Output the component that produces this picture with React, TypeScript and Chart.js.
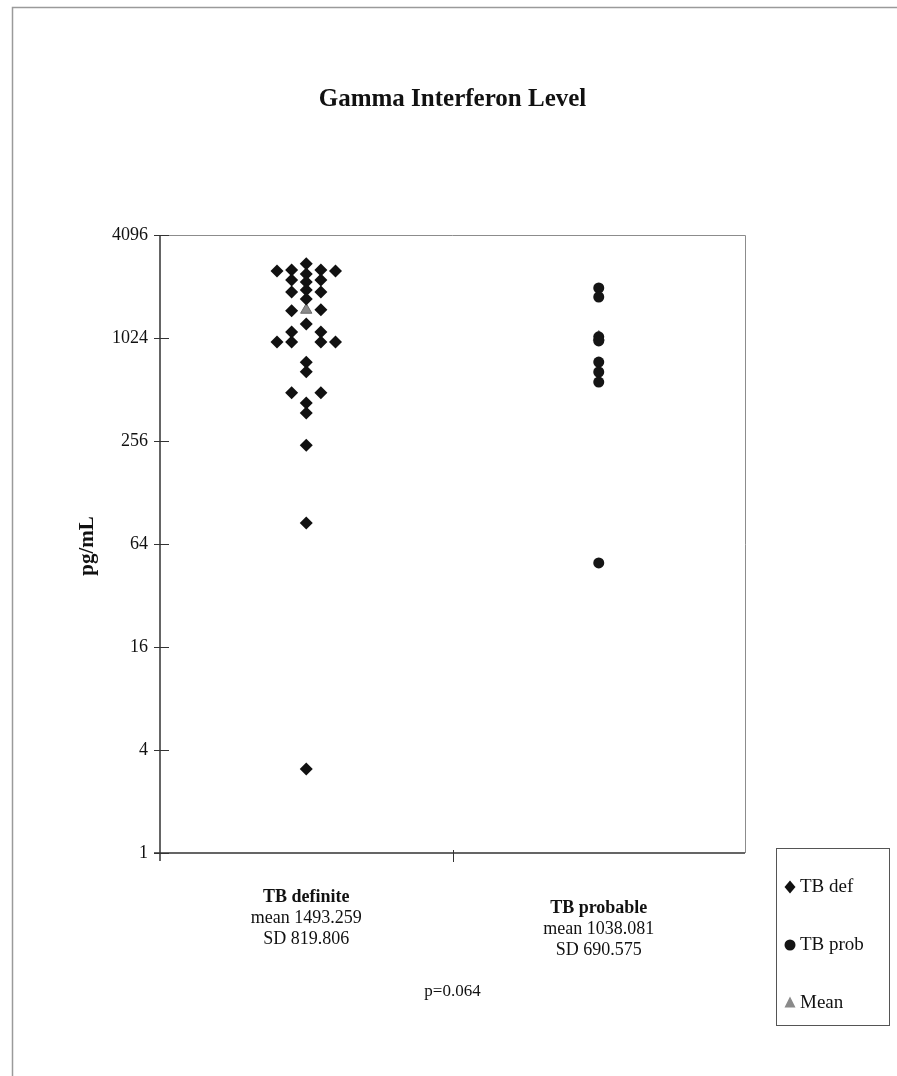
import React, { useEffect, useRef } from "react";
import { Chart, registerables } from "chart.js";

Chart.register(...registerables);

const titleText = "Gamma Interferon Level";
const yAxisTitle = "pg/mL";
const categories = ["TB definite", "TB probable"];
const categoryX = [1, 3];
const means = [1493.259, 1038.081];
const meanLabels = ["mean 1493.259", "mean 1038.081"];
const sdLabels = ["SD 819.806", "SD 690.575"];
const pValueText = "p=0.064";
const yTicks = [1, 4, 16, 64, 256, 1024, 4096];
const legendLabels = ["TB def", "TB prob", "Mean"];

// TB definite: jitter column (-2..2) and value (pg/mL)
const defColumns = [
  0, 0, 0, 0, 0, 0, 0, 0, 0, 0, 0, 0, 0,
  -1, -1, -1, -1, -1, -1, -1,
  1, 1, 1, 1, 1, 1, 1,
  -2, -2,
  2, 2,
];
const defValues = [
  2785, 2424, 2175, 1953, 1731, 1237, 740, 650, 427, 373, 242, 85, 3.1,
  2556, 2235, 1902, 1480, 1110, 970, 490,
  2556, 2235, 1902, 1500, 1110, 970, 490,
  2520, 970,
  2520, 970,
];
// TB probable
const probColumns = [0, 0, 0, 0, 0, 0, 0, 0];
const probValues = [2007, 1778, 1040, 985, 741, 648, 566, 49.6];

const FONT = "'Liberation Serif', 'Times New Roman', serif";

export default function App() {
  const ref = useRef<HTMLCanvasElement | null>(null);

  useEffect(() => {
    const canvas = ref.current;
    if (!canvas) return;
    const colStep = 0.1;
    const defData = defValues.map((v, i) => ({ x: categoryX[0] + defColumns[i] * colStep, y: v }));
    const probData = probValues.map((v, i) => ({ x: categoryX[1] + probColumns[i] * colStep, y: v }));
    const meanData = means.map((v, i) => ({ x: categoryX[i], y: v }));

    const decor = {
      id: "decor",
      beforeDraw(chart: any) {
        const ctx = chart.ctx;
        ctx.save();
        ctx.fillStyle = "#ffffff";
        ctx.fillRect(0, 0, chart.width, chart.height);
        ctx.strokeStyle = "#9a9a9a";
        ctx.lineWidth = 1.5;
        ctx.beginPath();
        ctx.moveTo(12.5, chart.height + 2);
        ctx.lineTo(12.5, 7.5);
        ctx.lineTo(chart.width + 2, 7.5);
        ctx.stroke();
        ctx.restore();
      },
      beforeDatasetsDraw(chart: any) {
        const ctx = chart.ctx;
        const a = chart.chartArea;
        const ys = chart.scales.y;
        const xs = chart.scales.x;
        ctx.save();
        ctx.strokeStyle = "#8c8c8c";
        ctx.lineWidth = 1;
        ctx.beginPath();
        ctx.moveTo(a.left, a.top + 0.5);
        ctx.lineTo(a.right + 0.5, a.top + 0.5);
        ctx.lineTo(a.right + 0.5, a.bottom);
        ctx.stroke();
        ctx.strokeStyle = "#333333";
        ctx.lineWidth = 1.5;
        ctx.beginPath();
        ctx.moveTo(a.left, a.top);
        ctx.lineTo(a.left, a.bottom + 8);
        ctx.moveTo(a.left - 6, a.bottom);
        ctx.lineTo(a.right, a.bottom);
        ctx.stroke();
        ctx.lineWidth = 1;
        ctx.beginPath();
        yTicks.forEach((t) => {
          const y = Math.round(ys.getPixelForValue(t)) + 0.5;
          ctx.moveTo(a.left - 6, y);
          ctx.lineTo(a.left + 9, y);
        });
        const mx = Math.round(xs.getPixelForValue((categoryX[0] + categoryX[1]) / 2)) + 0.5;
        ctx.moveTo(mx, a.bottom - 3);
        ctx.lineTo(mx, a.bottom + 9);
        ctx.stroke();
        ctx.restore();
      },
      afterDraw(chart: any) {
        const ctx = chart.ctx;
        const a = chart.chartArea;
        const xs = chart.scales.x;
        ctx.save();
        ctx.fillStyle = "#111111";
        ctx.textAlign = "center";
        ctx.textBaseline = "middle";
        ctx.font = `bold 25px ${FONT}`;
        ctx.fillText(titleText, (a.left + a.right) / 2, 100);

        ctx.save();
        ctx.translate(88, 546);
        ctx.rotate(-Math.PI / 2);
        ctx.font = `bold 21px ${FONT}`;
        ctx.fillText(yAxisTitle, 0, 0);
        ctx.restore();

        const baseY = [897, 908];
        categories.forEach((c, i) => {
          const x = xs.getPixelForValue(categoryX[i]);
          ctx.font = `bold 18px ${FONT}`;
          ctx.fillText(c, x, baseY[i]);
          ctx.font = `18px ${FONT}`;
          ctx.fillText(meanLabels[i], x, baseY[i] + 21);
          ctx.fillText(sdLabels[i], x, baseY[i] + 42);
        });
        ctx.font = `17px ${FONT}`;
        ctx.fillText(pValueText, xs.getPixelForValue((categoryX[0] + categoryX[1]) / 2), 992);

        ctx.strokeStyle = "#555555";
        ctx.lineWidth = 1;
        ctx.strokeRect(776.5, 848.5, 113, 177);
        const ds = chart.data.datasets;
        const ly = [887, 945, 1003];
        legendLabels.forEach((lab, i) => {
          const d = ds[i];
          ctx.fillStyle = d.backgroundColor;
          const r = 5.5;
          const cx = 790;
          const cy = ly[i];
          ctx.beginPath();
          if (d.pointStyle === "rectRot") {
            ctx.moveTo(cx, cy - r - 1);
            ctx.lineTo(cx + r, cy);
            ctx.lineTo(cx, cy + r + 1);
            ctx.lineTo(cx - r, cy);
            ctx.closePath();
          } else if (d.pointStyle === "circle") {
            ctx.arc(cx, cy, r, 0, Math.PI * 2);
          } else {
            ctx.moveTo(cx, cy - r - 1);
            ctx.lineTo(cx + r, cy + r - 1);
            ctx.lineTo(cx - r, cy + r - 1);
            ctx.closePath();
          }
          ctx.fill();
          ctx.fillStyle = "#111111";
          ctx.textAlign = "left";
          ctx.font = `19px ${FONT}`;
          ctx.fillText(lab, 800, cy);
        });
        ctx.restore();
      },
    };

    const chart = new Chart(canvas, {
      type: "scatter",
      data: {
        datasets: [
          {
            label: legendLabels[0],
            data: defData,
            pointStyle: "rectRot",
            pointRadius: 6.5,
            backgroundColor: "#111111",
            borderColor: "#111111",
            borderWidth: 0,
          },
          {
            label: legendLabels[1],
            data: probData,
            pointStyle: "circle",
            pointRadius: 5.5,
            backgroundColor: "#151515",
            borderColor: "#151515",
            borderWidth: 0,
          },
          {
            label: legendLabels[2],
            data: meanData,
            pointStyle: "triangle",
            pointRadius: 6.5,
            backgroundColor: "#8a8a8a",
            borderColor: "#6a6a6a",
            borderWidth: 1,
          },
        ],
      } as any,
      options: {
        animation: false,
        responsive: false,
        events: [],
        layout: { padding: { top: 235, right: 152, bottom: 0, left: 0 }, autoPadding: false } as any,
        plugins: { legend: { display: false }, tooltip: { enabled: false }, title: { display: false } },
        scales: {
          x: {
            type: "linear",
            min: 0,
            max: 4,
            grid: { display: false },
            border: { display: false },
            ticks: { display: false },
            afterFit: (s: any) => {
              s.height = 223;
            },
          },
          y: {
            type: "logarithmic",
            min: 1,
            max: 4096,
            grid: { display: false },
            border: { display: false },
            afterBuildTicks: (s: any) => {
              s.ticks = yTicks.map((v) => ({ value: v }));
            },
            ticks: {
              padding: 4,
              color: "#111111",
              font: { family: FONT, size: 18 },
              callback: (v: any) => String(v),
            },
            afterFit: (s: any) => {
              s.width = 160;
            },
          },
        },
      } as any,
      plugins: [decor],
    });
    return () => chart.destroy();
  }, []);

  return (
    <div style={{ position: "absolute", left: 0, top: 0, width: 897, height: 1076, background: "#fff" }}>
      <canvas ref={ref} width={897} height={1076} style={{ display: "block" }} />
    </div>
  );
}
